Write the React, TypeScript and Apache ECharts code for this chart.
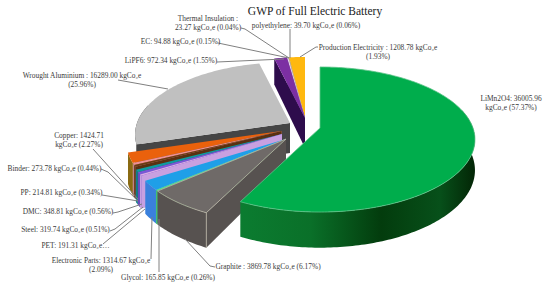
import React, { useEffect, useRef } from "react";
import * as echarts from "echarts";

// clockwise from 12 o'clock
const categories = ["LiMn2O4","Graphite","Glycol","Electronic Parts","PET","Steel","DMC","PP","Binder","Copper","Wrought Aluminium","LiPF6","EC","Thermal Insulation","polyethylene","Production Electricity"];
const values = [36005.96,3869.78,165.85,1314.67,191.31,319.74,348.81,214.81,273.78,1424.71,16289.0,972.34,94.88,23.27,39.7,1208.78];
const topColors = ["#00ad4c","#6f6a68","#4fe487","#1f9fe8","#dca9e8","#7d55d8","#0f9aa0","#6b3a12","#ee8f96","#ea610c","#c0c0c0","#7c2fa3","#e4d4f0","#f4f0e8","#b9985a","#ffb80f"];
const wallColors = ["#0b6a28","#575250","#44c070","#3a80dc","#c8a0e0","#6a48c0","#0d8088","#5a3010","#c08088","#8a6a12","#454545","#2e0c4c","#8a70a0","#a09080","#8d7450","#a98a6c"];
const drawOrder = [10,15,14,13,12,11,9,8,7,6,5,4,3,2,1,0];

const TITLE = "GWP of Full Electric Battery";
const labelRows = [
  ["Thermal Insulation :\n23.27 kgCo₂e (0.04%)", 208, 23, "center"],
  ["EC: 94.88 kgCo₂e (0.15%)", 180.5, 41, "center"],
  ["LiPF6: 972.34 kgCo₂e (1.55%)", 171, 60, "center"],
  ["Wrought Aluminium : 16289.00 kgCo₂e\n(25.96%)", 82, 79.5, "center"],
  ["Copper: 1424.71\nkgCo₂e (2.27%)", 79, 139.5, "center"],
  ["Binder: 273.78 kgCo₂e (0.44%)", 54.5, 168, "center"],
  ["PP: 214.81 kgCo₂e (0.34%)", 61.5, 192, "center"],
  ["DMC: 348.81 kgCo₂e (0.56%)", 68, 211, "center"],
  ["Steel: 319.74 kgCo₂e (0.51%)", 65.5, 229, "center"],
  ["PET: 191.31 kgCo₂e…", 75.5, 245, "center"],
  ["Electronic Parts: 1314.67 kgCo₂e\n(2.09%)", 101, 264.5, "center"],
  ["Glycol: 165.85 kgCo₂e (0.26%)", 168, 277, "center"],
  ["Graphite : 3869.78 kgCo₂e (6.17%)", 268, 266, "center"],
  ["LiMn2O4: 36005.96\nkgCo₂e (57.37%)", 511, 103, "center"],
  ["Production Electricity : 1208.78 kgCo₂e\n(1.93%)", 378, 51.5, "center"],
  ["polyethylene: 39.70 kgCo₂e (0.06%)", 306, 25, "center"],
];
const leaderRows = [
  [[241,28],[245,29],[289,58]],
  [[218,43],[289,58]],
  [[217,62],[284,59]],
  [[118,80],[168,89]],
  [[93,149],[138,199]],
  [[101,169],[108,172],[138,201]],
  [[102,195],[138,201]],
  [[113,213],[118,212],[142,204]],
  [[110,231],[115,229],[143,207]],
  [[103,244],[145,209]],
  [[151,259],[152,217]],
  [[159,272],[159,219]],
  [[215,267],[210,266],[185,239]],
  [[318,47],[316,47],[300,57]],
  [[290,29],[290,58]],
];

// apex of each slice's top face on the page (pie explosion)
const apexOf = (i: number): [number, number] => {
  if (i === 0) return [320, 128];
  if (i <= 3) return [286, 139];
  if (i <= 6) return [282, 134];
  if (i <= 9) return [281.5, 131];
  if (i === 10) return [290, 123];
  return [305, 118];
};
const R = 153, K = 70.7, P = 0.1586, DEPTH = 30;
const total = values.reduce((a, b) => a + b, 0);
const startDeg = values.map((_, i) => values.slice(0, i).reduce((a, b) => a + b, 0) / total * 360);

const pt = (i: number, deg: number, r: number, drop: number) => {
  const a = deg * Math.PI / 180;
  const u = Math.sin(a) * r, v = -Math.cos(a) * r;
  const s = 1 / (1 - P * v);
  const [ax, ay] = apexOf(i);
  return [ax + R * u * s, ay + K * v * s + drop * s];
};
const arcPts = (i: number, a0: number, a1: number, drop: number) => {
  const n = Math.max(2, Math.ceil(Math.abs(a1 - a0)));
  return Array.from({ length: n + 1 }, (_, k) => pt(i, a0 + (a1 - a0) * k / n, 1, drop));
};

const greenWall = {
  type: "linear", x: 0, y: 0, x2: 1, y2: 0,
  colorStops: [
    { offset: 0, color: "#0b7c30" }, { offset: 0.3, color: "#0a7029" },
    { offset: 0.6, color: "#033c0d" }, { offset: 0.85, color: "#07501a" }, { offset: 1, color: "#032606" },
  ],
};

const renderItem = (params: any, api: any) => {
  const value = api.value(0);
  const i = api.value(1);
  const a0 = startDeg[i];
  const a1 = a0 + value / total * 360;
  const children: any[] = [];
  const wallFill = i === 0 ? greenWall : wallColors[i];
  const edge = i === 1 ? "#b9b5a4" : i === 0 ? "#5fc48a" : "none";
  if (a0 > 180) {
    children.push({ type: "polygon", silent: true, shape: { points: [pt(i, a0, 0, 0), pt(i, a0, 1, 0), pt(i, a0, 1, DEPTH), pt(i, a0, 0, DEPTH)] },
      style: { fill: wallColors[i] } });
  }
  const wa0 = Math.max(a0, 75), wa1 = Math.min(a1, 285);
  if (wa1 > wa0) {
    children.push({ type: "polygon", silent: true, shape: { points: [...arcPts(i, wa0, wa1, 0), ...arcPts(i, wa1, wa0, DEPTH)] },
      style: { fill: wallFill } });
  }
  children.push({ type: "polygon", silent: true, shape: { points: [pt(i, a0, 0, 0), ...arcPts(i, a0, a1, 0)] },
    style: { fill: topColors[i], stroke: edge, lineWidth: 0.8 } });
  if (i === 1) {
    children.push({ type: "polyline", silent: true, shape: { points: [pt(i, a0, 1, 0), pt(i, a0, 1, DEPTH)] },
      style: { stroke: edge, lineWidth: 0.8, fill: "none" } });
  }
  return { type: "group", children };
};

export default function App() {
  const ref = useRef<HTMLDivElement>(null);
  useEffect(() => {
    const chart = echarts.init(ref.current!, undefined, { renderer: "svg" });
    chart.setOption({
      animation: false,
      backgroundColor: "#ffffff",
      title: { text: TITLE, left: 310, top: 0, textAlign: "center",
        textStyle: { fontFamily: "Liberation Serif", fontSize: 11.5, fontWeight: "normal", color: "#222" } },
      series: [{
        type: "custom", coordinateSystem: "none", silent: true, renderItem,
        data: drawOrder.map((i) => ({ name: categories[i], value: [values[i], i] })),
      }],
      graphic: [
        ...leaderRows.map((pts) => ({ type: "polyline", z: 10, silent: true, shape: { points: pts }, style: { stroke: "#808080", lineWidth: 1, fill: "none" } })),
        ...labelRows.map(([text, x, y, align]) => ({ type: "text", z: 11, silent: true, x, y,
          style: { text, fontFamily: "Liberation Serif", fontSize: 7.4, lineHeight: 9, fill: "#3a3a3a", align, verticalAlign: "middle" } })),
      ],
    });
    return () => chart.dispose();
  }, []);
  return <div ref={ref} style={{ position: "absolute", left: 0, top: 0, width: 550, height: 288 }} />;
}
